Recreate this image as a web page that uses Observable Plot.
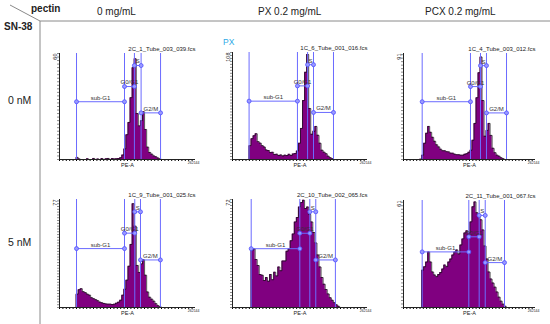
<!DOCTYPE html>
<html><head><meta charset="utf-8">
<script src="https://cdn.jsdelivr.net/npm/d3@7"></script>
<script src="https://cdn.jsdelivr.net/npm/@observablehq/plot@0.6"></script>
<style>
html,body{margin:0;padding:0;background:#fff;}
#root{position:relative;width:550px;height:324px;overflow:hidden;font-family:"Liberation Sans",Arial,sans-serif;}
</style></head><body><div id="root"></div>
<script>
// ---- data ----
const columns = ["0 mg/mL", "PX 0.2 mg/mL", "PCX 0.2 mg/mL"];
const rows = ["0 nM", "5 nM"];
const ymax = [60, 108, 91, 77, 72, 61];
const titles = ["2C_1_Tube_003_039.fcs", "1C_6_Tube_001_016.fcs", "1C_4_Tube_003_012.fcs",
                "1C_9_Tube_001_025.fcs", "2C_10_Tube_002_065.fcs", "2C_11_Tube_001_067.fcs"];
const axisMax = 262.144; // PE-A, thousands
const binStart = [32, 32, 32, 32, 36, 36];
const binWidth = 4;
const counts1 = [1.2,0.3,0,0,0,0.4,0,0,0.6,0,0.3,0,0.5,0,0.4,0.6,0,0.5,0.3,0.4,
                 0.5,1,2.5,6,14,21,35,52,57,26,19,22,27,17,7,4,3,2,1.5,0.8,0.3];
const counts2 = [14,21,24,26,18,16.5,14,12.5,9.5,9,7,7.2,5,5.3,4,4.6,3.5,4.4,4,5.2,
                 4,5.6,6,8.5,16.4,31.4,59.5,88,106,51.5,25.4,28.4,33.4,24.4,16.4,9.3,7.3,5.8,3.3,1.8,0.8];
const counts3 = [0.3,3.7,13.9,22.5,28.4,23.3,19,15.6,12.6,10.8,8.8,7.5,7.5,6.7,6.5,5.4,5.4,4.5,4.1,4.1,
                 3.7,3.7,4.5,5,6.2,7.9,16.5,31,53,74.5,88,50.6,19.9,25,31,20.7,9.6,5.8,3.7,2.8,1.5,0.7];
const counts4 = [9.5,12.7,13.4,11.3,10.6,9.5,8.8,7,6.3,5.6,4.8,3.8,3.3,2.9,2.5,2.4,2.4,2.1,2.4,3.1,
                 3.8,5.2,8.8,13,19.5,29.4,45,74,58,30,25,31,34,23,11,7.3,5.9,4.5,2.7,1.3,0.6];
const counts5 = [38,39,32,28,22,21.5,18,20,17.5,22,18.5,23.5,21,27,24.5,31,31,37.5,39,44.5,
                 49,57,60,67,70,71.5,66,67,62,57,50,43,35,27,20,15.5,12,9,6.5,4.8,3.2,1.8,0.8];
const counts6 = [21.3,23.2,25.9,31.6,25.9,20.2,18.5,17.6,18.8,19.9,21.9,24.2,23.3,25.9,27.6,29.9,31.6,32.8,30.5,35.6,
                 39.1,42.5,43.7,42.5,48.8,57.4,60.2,54,52.2,50,44.2,35,27.6,20.2,16.2,13.9,11.6,8.8,5.9,3.6,1.9,0.7];
const counts = [counts1, counts2, counts3, counts4, counts5, counts6];
const gateNames = ["sub-G1", "G0/G1", "S", "G2/M"];
const gateEdges = [
  [32.8,125.3,144.4,157.3,194.8],
  [32.2,126.1,145.8,157.3,196.1],
  [37.1,133,152.9,164.8,204.6],
  [32.8,125.3,145.1,156.1,194.5],
  [36.3,130.7,150.1,161.7,199.8],
  [37.1,129.7,150.3,162.3,200.6]
];
const gateLevels = [
  [32.7,41.3,53.2,26.4],
  [58.9,74.3,95.7,47.5],
  [49.6,62.6,80.6,40],
  [42,53,68.2,33.9],
  [39.2,49.5,63.8,31.7],
  [31.7,40.3,52.5,25.6]
];

// ---- layout ----
const frames = [
  {left:59, top:53, w:136, h:106},
  {left:232, top:52, w:135, h:107},
  {left:403, top:53, w:132, h:106},
  {left:59, top:199, w:136, h:108},
  {left:232, top:199, w:135, h:108},
  {left:403, top:200, w:132, h:107}
];
const ML = 16, MT = 14, MR = 12, MB = 16;
const gateColor = "#6b6bff";
const root = document.getElementById("root");

// header / grid decoration
const ns = "http://www.w3.org/2000/svg";
const deco = document.createElementNS(ns, "svg");
deco.setAttribute("width", 550); deco.setAttribute("height", 324);
deco.style.position = "absolute"; deco.style.left = "0"; deco.style.top = "0";
function el(tag, attrs, txt) {
  const e = document.createElementNS(ns, tag);
  for (const k in attrs) e.setAttribute(k, attrs[k]);
  if (txt != null) e.textContent = txt;
  deco.appendChild(e);
}
el("line", {x1:10, y1:5, x2:40, y2:21, stroke:"#8a8a8a", "stroke-width":1});
el("line", {x1:40, y1:21, x2:550, y2:21, stroke:"#8a8a8a", "stroke-width":1});
el("line", {x1:40, y1:21, x2:40, y2:324, stroke:"#8a8a8a", "stroke-width":1});
const tf = 'font-family:"Liberation Sans",Arial,sans-serif;';
el("text", {x:31, y:12, style:tf+"font-size:10px;font-weight:bold;fill:#222"}, "pectin");
el("text", {x:4, y:29.5, style:tf+"font-size:10px;font-weight:bold;fill:#222"}, "SN-38");
const colX = [97, 258, 425];
columns.forEach((c, i) => el("text", {x:colX[i], y:15, style:tf+"font-size:10px;fill:#222"}, c));
const rowY = [104, 246];
rows.forEach((r, i) => el("text", {x:8, y:rowY[i], style:tf+"font-size:10.5px;fill:#222"}, r));
el("text", {x:223, y:45, style:tf+"font-size:8.5px;fill:#29a9e6"}, "PX");
root.appendChild(deco);

function panel(i) {
  const f = frames[i];
  const c = counts[i];
  const bins = c.map((v, j) => ({x1: binStart[i] + j*binWidth, x2: binStart[i] + (j+1)*binWidth, y: v}));
  const outline = [{x: bins[0].x1, y: 0}].concat(
    bins.flatMap(b => [{x: b.x1, y: b.y}, {x: b.x2, y: b.y}]),
    [{x: bins[bins.length-1].x2, y: 0}]);
  const e = gateEdges[i], lv = gateLevels[i];
  const segs = gateNames.map((n, k) => ({name: n, x1: e[k], x2: e[k+1], y: lv[k]}));
  const ends = segs.flatMap(s => [{x: s.x1, y: s.y}, {x: s.x2, y: s.y}]);
  const svg = Plot.plot({
    width: f.w + ML + MR, height: f.h + MT + MB,
    marginLeft: ML, marginTop: MT, marginRight: MR, marginBottom: MB,
    style: {fontFamily: '"Liberation Sans", Arial, sans-serif', background: "transparent", overflow: "visible"},
    x: {domain: [0, axisMax], ticks: d3.range(0, axisMax, 6.5536), tickSize: 2, tickFormat: () => "", label: null},
    y: {domain: [0, ymax[i]], ticks: d3.range(0, ymax[i] + 1, ymax[i] > 80 ? 3 : 2), tickSize: 2, tickFormat: () => "", label: null},
    marks: [
      Plot.area(outline, {x1: "x", y1: 0, y2: "y", fill: "#800080"}),
      Plot.line(outline, {x: "x", y: "y", stroke: "#111", strokeWidth: 0.7}),
      Plot.ruleX([0], {stroke: "#222"}),
      Plot.ruleY([0], {stroke: "#222"}),
      Plot.ruleX(e, {stroke: gateColor, strokeWidth: 1}),
      Plot.ruleY(segs, {x1: "x1", x2: "x2", y: "y", stroke: gateColor, strokeWidth: 1}),
      Plot.dot(ends, {x: "x", y: "y", r: 2, stroke: "#4f4fff", fill: "#9a9aff", strokeWidth: 0.8}),
      Plot.text(segs, {x: d => (d.x1 + d.x2) / 2, y: "y", text: "name", dy: -4, fontSize: 6, fill: "#333"}),
      Plot.text([titles[i]], {frameAnchor: "top-right", textAnchor: "end", lineAnchor: "bottom", dy: -3, fontSize: 6, fill: "#222"}),
      Plot.text([String(ymax[i])], {frameAnchor: "top-left", rotate: -90, textAnchor: "end", dx: -6, fontSize: 5.5, fill: "#222"}),
      Plot.text(["PE-A"], {frameAnchor: "bottom", lineAnchor: "top", dy: 4, fontSize: 5.5, fill: "#222"}),
      Plot.text(["262144"], {frameAnchor: "bottom-right", lineAnchor: "top", textAnchor: "end", dx: 4, dy: 2, fontSize: 3.5, fill: "#222"})
    ]
  });
  svg.style.position = "absolute";
  svg.style.left = (f.left - ML) + "px";
  svg.style.top = (f.top - MT) + "px";
  svg.style.maxWidth = "none";
  svg.querySelectorAll("[aria-label='y-axis tick']").forEach(g => g.setAttribute("stroke-opacity", "0.45"));
  root.appendChild(svg);
}
for (let i = 0; i < 6; i++) panel(i);
</script></body></html>
